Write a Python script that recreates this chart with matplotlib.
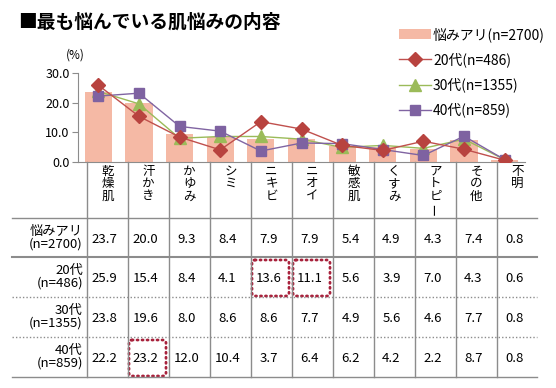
import matplotlib
matplotlib.use("Agg")
import matplotlib.pyplot as plt
from matplotlib.patches import FancyBboxPatch

plt.rcParams['font.family'] = ['Noto Sans CJK JP', 'DejaVu Sans']

# ---- data ----
categories = ['乾燥肌', '汗かき', 'かゆみ', 'シミ', 'ニキビ', 'ニオイ',
              '敏感肌', 'くすみ', 'アトピー', 'その他', '不明']
total = [23.7, 20.0, 9.3, 8.4, 7.9, 7.9, 5.4, 4.9, 4.3, 7.4, 0.8]
age20 = [25.9, 15.4, 8.4, 4.1, 13.6, 11.1, 5.6, 3.9, 7.0, 4.3, 0.6]
age30 = [23.8, 19.6, 8.0, 8.6, 8.6, 7.7, 4.9, 5.6, 4.6, 7.7, 0.8]
age40 = [22.2, 23.2, 12.0, 10.4, 3.7, 6.4, 6.2, 4.2, 2.2, 8.7, 0.8]

row_names = ['悩みアリ', '20代', '30代', '40代']
row_n = ['(n=2700)', '(n=486)', '(n=1355)', '(n=859)']
yticks = [0, 10, 20, 30]
highlights = [(1, 4), (1, 5), (3, 1)]   # (row, column) of boxed cells

title = '■最も悩んでいる肌悩みの内容'

# ---- layout (pixels) ----
W, H = 556, 388
gray = '#8c8c8c'

def fx(px):
    return px / W

def fy(py):
    return 1 - py / H

fig = plt.figure(figsize=(W / 100, H / 100), dpi=100)

ax = fig.add_axes([fx(78), fy(162), fx(525) - fx(78), fy(73) - fy(162)])
x = list(range(len(categories)))

bars = ax.bar(x, total, width=0.67, color='#F5B9A5', label='悩みアリ(n=2700)', zorder=1)
l20, = ax.plot(x, age20, color='#C0504D', lw=1, marker='D', ms=7.5,
               mfc='#B8433F', mec='#B8433F', label='20代(n=486)', zorder=3)
l30, = ax.plot(x, age30, color='#9BBB59', lw=1, marker='^', ms=9,
               mfc='#9BBB59', mec='#9BBB59', label='30代(n=1355)', zorder=2)
l40, = ax.plot(x, age40, color='#8064A2', lw=1, marker='s', ms=7,
               mfc='#7E62A1', mec='#7E62A1', label='40代(n=859)', zorder=2)

ax.set_xlim(-0.5, len(categories) - 0.5)
ax.set_ylim(0, 30)
ax.set_yticks(yticks, [f'{v:.1f}' for v in yticks])
ax.set_xticks([])
for s in ['top', 'right']:
    ax.spines[s].set_visible(False)
for s in ['left', 'bottom']:
    ax.spines[s].set_color(gray)
ax.tick_params(axis='y', length=4, color=gray, labelsize=9, pad=2)
ax.patch.set_alpha(0)

leg = ax.legend(handles=[bars, l20, l30, l40],
                loc='upper left', bbox_to_anchor=(fx(399), fy(27)),
                bbox_transform=fig.transFigure, frameon=False, fontsize=10,
                handlelength=2.3, handletextpad=0.15, labelspacing=0.75,
                borderpad=0, borderaxespad=0)

fig.text(fx(18), fy(22), title, fontsize=13.5, fontweight='bold', va='center')
fig.text(fx(75), fy(55), '(%)', ha='center', va='center', fontsize=8.5)

# ---- table ----
tab = fig.add_axes([0, 0, 1, 1])
tab.set_xlim(0, W)
tab.set_ylim(H, 0)
tab.axis('off')

col0, colw = 87, 41
ncol = len(categories)
row_edges = [218, 257, 297, 337, 377]
row_styles = ['-', '-', ':', ':', '-']

for yy, ls in zip(row_edges, row_styles):
    if ls == ':':
        tab.plot([12, 537], [yy, yy], color=gray, lw=1, ls=(0, (1, 1.5)))
    else:
        tab.plot([12, 537], [yy, yy], color=gray, lw=1.5 if yy == 257 else 1)
for i in range(ncol):
    xx = col0 + colw * i
    tab.plot([xx, xx], [162, 377], color=gray, lw=1)

for i, name in enumerate(categories):
    cx = col0 + colw * i + colw / 2
    for k, ch in enumerate(name):
        tab.text(cx, 171 + 12.5 * k, ch, ha='center', va='center', fontsize=9,
                 rotation=90 if ch == 'ー' else 0)

for r, vals in enumerate([total, age20, age30, age40]):
    top, bot = row_edges[r], row_edges[r + 1]
    cy = (top + bot) / 2
    tab.text(83, cy - 6.5, row_names[r], ha='right', va='center', fontsize=9.5)
    tab.text(83, cy + 6.5, row_n[r], ha='right', va='center', fontsize=9.5)
    for i, v in enumerate(vals):
        cx = col0 + colw * i + colw / 2 - 3
        tab.text(cx, cy + 2, f'{v:.1f}', ha='center', va='center', fontsize=9.5)

for r, c in highlights:
    x0 = col0 + colw * c + 1
    y0 = row_edges[r] + 3
    box = FancyBboxPatch((x0, y0), colw - 4, row_edges[r + 1] - row_edges[r] - 4,
                         boxstyle='round,pad=0,rounding_size=3',
                         fill=False, ec='#A8223C', lw=2,
                         ls=(0, (0.4, 1.4)), capstyle='round')
    tab.add_patch(box)

fig.savefig('out.png', dpi=100)
